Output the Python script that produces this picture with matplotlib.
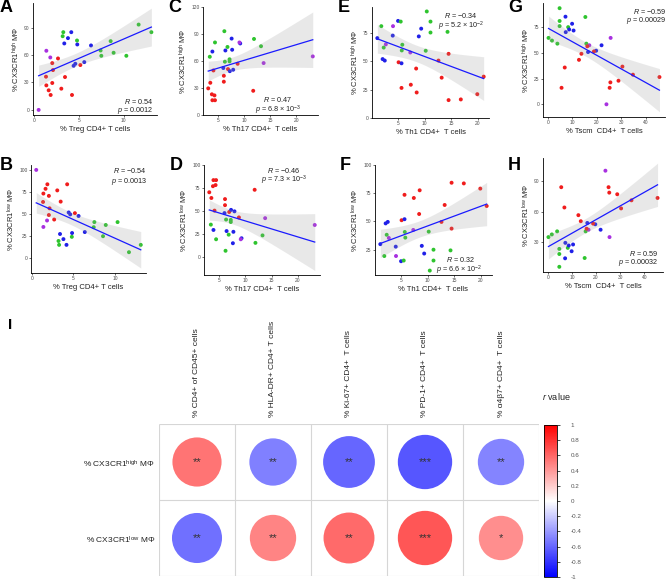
import numpy as np
import matplotlib.pyplot as plt
from matplotlib.colors import LinearSegmentedColormap, Normalize
from matplotlib.cm import ScalarMappable
from matplotlib.patches import Circle

plt.rcParams['font.family'] = ['Liberation Sans', 'DejaVu Sans']
plt.rcParams['mathtext.fontset'] = 'custom'
plt.rcParams['mathtext.rm'] = 'Liberation Sans'
plt.rcParams['mathtext.it'] = 'Liberation Sans:italic'

W, H = 667, 579

group_colors = {'r': '#f01c1c', 'g': '#2ec42e', 'b': '#2020e8', 'p': '#a830e0'}

# --- Treg (A, B) ---
treg_grp = "ppp" + "r" * 12 + "b" * 8 + "g" * 10
treg_x = [0.52, 1.38, 1.82,
          1.34, 1.38, 1.64, 1.86, 2.04, 2.04, 2.12, 2.68, 3.05, 3.46, 4.24, 5.17,
          4.42, 4.61, 5.61, 3.38, 3.79, 4.16, 4.83, 6.36,
          3.27, 3.20, 4.80, 7.43, 7.51, 8.55, 8.88, 10.30, 11.67, 13.09]
treg_high = [0.0, 64.6, 57.3,
             36.3, 26.8, 21.4, 16.3, 29.4, 51.1, 43.5, 56.2, 23.2, 35.9, 16.3, 49.0,
             48.2, 50.4, 52.2, 72.6, 78.4, 84.9, 71.5, 70.4,
             84.9, 80.5, 75.8, 64.9, 59.1, 75.1, 62.4, 59.1, 93.2, 84.9]

# --- Th17 (C, D) ---
th17_grp = "r" * 12 + "b" * 8 + "g" * 9 + "p" * 3
th17_x = [3.1, 3.5, 3.8, 3.9, 4.3, 4.4, 4.1, 6.1, 6.1, 6.9, 8.75, 11.75,
          3.9, 6.0, 6.4, 7.25, 7.6, 7.7, 7.9, 9.25,
          3.4, 4.4, 6.2, 6.3, 6.8, 7.2, 7.2, 11.9, 13.25,
          9.1, 13.75, 23.2]
th17_high = [29.6, 35.8, 23.0, 16.4, 21.8, 16.4, 49.5, 43.6, 37.0, 51.0, 56.9, 26.9,
             70.5, 52.2, 71.7, 48.7, 84.9, 72.5, 50.3, 79.5,
             64.7, 80.6, 93.1, 59.2, 75.6, 61.9, 59.6, 84.5, 76.4,
             80.6, 57.7, 65.1]

# --- Th1 (E, F) ---
th1_grp = "r" * 12 + "b" * 8 + "g" * 10 + "p" * 3
th1_x = [5.1, 5.65, 7.4, 8.4, 8.5, 12.6, 13.2, 14.5, 14.5, 16.8, 19.9, 21.1,
         1.1, 2.1, 2.5, 4.0, 5.0, 5.65, 8.9, 9.35,
         1.85, 2.3, 5.5, 5.8, 5.7, 10.2, 10.4, 11.1, 11.1, 14.3,
         2.7, 4.05, 7.3]
th1_high = [48.9, 26.4, 29.2, 43.4, 22.4, 50.4, 35.4, 56.3, 15.7, 16.3, 20.9, 36.3,
            70.1, 51.7, 50.4, 72.3, 85.2, 48.0, 71.6, 78.4,
            80.6, 61.8, 84.6, 64.3, 59.3, 59.0, 93.5, 84.6, 75.0, 75.6,
            64.6, 80.6, 57.5]

# --- Tscm (G, H) ---
tscm_grp = "g" * 9 + "b" * 8 + "p" * 3 + "r" * 12
tscm_x = [0.3, 1.7, 3.9, 4.8, 4.8, 4.8, 8.3, 15.3, 15.7,
          7.2, 7.3, 8.7, 9.9, 10.5, 16.4, 19.7, 21.9,
          16.9, 25.6, 23.9,
          5.6, 6.9, 12.7, 13.7, 16.1, 18.8, 25.5, 25.2, 28.8, 30.4, 34.7, 45.5]
tscm_high = [64.8, 62.2, 59.2, 93.8, 81.3, 76.3, 75.3, 85.2, 59.2,
             85.5, 70.4, 73.0, 78.6, 72.0, 51.0, 52.3, 57.6,
             57.6, 64.8, 0.0,
             16.1, 35.9, 43.4, 49.3, 56.6, 51.6, 21.4, 16.1, 23.0, 36.8, 28.9, 26.6]

# --- correlation matrix (I) ---
corr_cols = ["% CD4+ of CD45+ cells", "% HLA-DR+ CD4+ T cells", "% Ki-67+ CD4+  T cells",
             "% PD-1+ CD4+  T cells", "% α4β7+ CD4+  T cells"]
corr_rows = [r"% CX3CR1$^{\mathrm{high}}$ MΦ", r"% CX3CR1$^{\mathrm{low}}$ MΦ"]
corr_r = [[0.54, -0.50, -0.60, -0.66, -0.48],
          [-0.56, 0.48, 0.58, 0.66, 0.44]]
corr_stars = [["**", "**", "**", "***", "**"],
              ["**", "**", "**", "***", "*"]]

high_lab = r"% CX3CR1$^{\mathrm{high}}$ MΦ"
low_lab = r"% CX3CR1$^{\mathrm{low}}$ MΦ"


def px_rect(l, t, r, b):
    return [l / W, 1 - b / H, (r - l) / W, (b - t) / H]


def ftext(x, y, s, **kw):
    fig.text(x / W, 1 - y / H, s, **kw)


def scatter_panel(rect, x, y, grp, xticks, yticks, xlabel, ylabel):
    ax = fig.add_axes(px_rect(*rect))
    x = np.asarray(x, float)
    y = np.asarray(y, float)
    cols = [group_colors[g] for g in grp]
    ax.scatter(x, y, s=8, c=cols, linewidths=0, zorder=2)
    # linear fit with 95% confidence band
    n = len(x)
    b1, b0 = np.polyfit(x, y, 1)
    xs = np.linspace(x.min(), x.max(), 80)
    fit = b0 + b1 * xs
    resid = y - (b0 + b1 * x)
    s = np.sqrt(np.sum(resid ** 2) / (n - 2))
    se = s * np.sqrt(1 / n + (xs - x.mean()) ** 2 / np.sum((x - x.mean()) ** 2))
    lo, hi = fit - 2.04 * se, fit + 2.04 * se
    ax.fill_between(xs, lo, hi, color='#9a9a9a', alpha=0.22, linewidth=0, zorder=3)
    ax.plot(xs, fit, color='#1a1aff', lw=0.9, zorder=4)
    xr = x.max() - x.min()
    ax.set_xlim(x.min() - 0.05 * xr, x.max() + 0.05 * xr)
    ymin = min(y.min(), lo.min())
    ymax = max(y.max(), hi.max())
    yr = ymax - ymin
    ax.set_ylim(ymin - 0.05 * yr, ymax + 0.05 * yr)
    ax.set_xticks(xticks)
    ax.set_yticks(yticks)
    for side in ['top', 'right']:
        ax.spines[side].set_visible(False)
    for side in ['left', 'bottom']:
        ax.spines[side].set_linewidth(0.6)
    ax.tick_params(length=1.5, width=0.5, pad=1, labelsize=3.5,
                   labelcolor='#4d4d4d', color='#333333')
    ax.set_xlabel(xlabel, fontsize=5.5, labelpad=1.5, color='#222222')
    ax.set_ylabel(ylabel, fontsize=5.5, labelpad=1.5, color='#222222')
    return ax


fig = plt.figure(figsize=(W / 100, H / 100), dpi=100)

treg_low = [100 - v for v in treg_high]
th17_low = [100 - v for v in th17_high]
th1_low = [100 - v for v in th1_high]
tscm_low = [100 - v for v in tscm_high]

scatter_panel((33, 3, 157, 115), treg_x, treg_high, treg_grp, [0, 5, 10], [0, 30, 60, 90],
              "% Treg CD4+ T cells", high_lab)
scatter_panel((31, 165, 146, 273), treg_x, treg_low, treg_grp, [0, 5, 10], [0, 25, 50, 75, 100],
              "% Treg CD4+ T cells", low_lab)
scatter_panel((203, 7, 318, 115), th17_x, th17_high, th17_grp, [5, 10, 15, 20], [0, 30, 60, 90, 120],
              "% Th17 CD4+  T cells", high_lab)
scatter_panel((204, 165, 320, 275), th17_x, th17_low, th17_grp, [5, 10, 15, 20], [0, 25, 50, 75, 100],
              "% Th17 CD4+  T cells", low_lab)
scatter_panel((372, 7, 489, 118), th1_x, th1_high, th1_grp, [5, 10, 15, 20], [0, 25, 50, 75],
              "% Th1 CD4+  T cells", high_lab)
scatter_panel((375, 165, 492, 275), th1_x, th1_low, th1_grp, [5, 10, 15, 20], [25, 50, 75, 100],
              "% Th1 CD4+  T cells", low_lab)
scatter_panel((543, 3, 665, 117), tscm_x, tscm_high, tscm_grp, [0, 10, 20, 30, 40], [0, 25, 50, 75],
              "% Tscm  CD4+  T cells", high_lab)
scatter_panel((543, 158, 663, 272), tscm_x, tscm_low, tscm_grp, [0, 10, 20, 30, 40], [30, 60, 90],
              "% Tscm  CD4+  T cells", low_lab)

# panel letters
for letter, lx, ly in [("A", 0, 8), ("C", 168, 8), ("E", 338, 8), ("G", 508, 8),
                       ("B", 0, 165), ("D", 170, 165), ("F", 340, 166), ("H", 508, 166)]:
    ftext(lx, ly, letter, fontsize=13, fontweight='bold', va='center', ha='left')
ftext(8, 325, "I", fontsize=11, fontweight='bold', va='center', ha='left')

# statistics
st = dict(fontsize=5.2, va='center', color='#222222')
ftext(153, 101, r"$R$ = 0.54", ha='right', **st)
ftext(153, 111, r"$p$ = 0.0012", ha='right', **st)
ftext(147, 171, r"$R$ = −0.54", ha='right', **st)
ftext(147, 181, r"$p$ = 0.0013", ha='right', **st)
ftext(278, 100, r"$R$ = 0.47", ha='center', **st)
ftext(278, 110, r"$p$ = 6.8 × 10$^{-3}$", ha='center', **st)
ftext(284, 170, r"$R$ = −0.46", ha='center', **st)
ftext(284, 180, r"$p$ = 7.3 × 10$^{-3}$", ha='center', **st)
ftext(461, 16, r"$R$ = −0.34", ha='center', **st)
ftext(461, 26, r"$p$ = 5.2 × 10$^{-2}$", ha='center', **st)
ftext(461, 260, r"$R$ = 0.32", ha='center', **st)
ftext(459, 270, r"$p$ = 6.6 × 10$^{-2}$", ha='center', **st)
ftext(666, 12, r"$R$ = −0.59", ha='right', **st)
ftext(666, 21, r"$p$ = 0.00029", ha='right', **st)
ftext(658, 254, r"$R$ = 0.59", ha='right', **st)
ftext(658, 263, r"$p$ = 0.00032", ha='right', **st)

# correlation circles
cmap = LinearSegmentedColormap.from_list("bwr2", ["#0000ff", "#ffffff", "#ff0000"])
norm = Normalize(-1, 1)
axc = fig.add_axes(px_rect(159, 424, 539, 576))
axc.set_xlim(0, 5)
axc.set_ylim(0, 2)
axc.axis('off')
axc.vlines(range(6), 0, 2, color='#d6d6d6', lw=0.8)
axc.hlines(range(3), 0, 5, color='#d6d6d6', lw=0.8)
for i, row in enumerate(corr_r):
    for j, r in enumerate(row):
        cx, cy = j + 0.5, 1.5 - i
        axc.add_patch(Circle((cx, cy), 0.5 * 0.88 * np.sqrt(abs(r)),
                             facecolor=cmap(norm(r)), edgecolor='none'))
        axc.text(cx, cy, corr_stars[i][j], ha='center', va='center',
                 fontsize=8, color='#333333')
for j, lab in enumerate(corr_cols):
    ftext(197 + 76 * j, 417, lab, rotation=90, ha='center', va='bottom',
          fontsize=6, color='#222222')
for i, lab in enumerate(corr_rows):
    ftext(155, 464 + 76 * i, lab, ha='right', va='center', fontsize=6, color='#222222')

cax = fig.add_axes(px_rect(544, 425, 557, 577))
cb = fig.colorbar(ScalarMappable(norm=norm, cmap=cmap), cax=cax,
                  ticks=np.linspace(-1, 1, 11))
cb.ax.set_yticklabels(["-1", "-0.8", "-0.6", "-0.4", "-0.2", "0",
                       "0.2", "0.4", "0.6", "0.8", "1"])
cb.ax.tick_params(length=2, width=0.5, labelsize=4.5, labelcolor='#555555', pad=8)
cb.outline.set_linewidth(0.6)
ftext(542, 396, r"$r$ value", ha='left', va='center', fontsize=6.5, color='#222222')

fig.savefig("out.png", dpi=100)
